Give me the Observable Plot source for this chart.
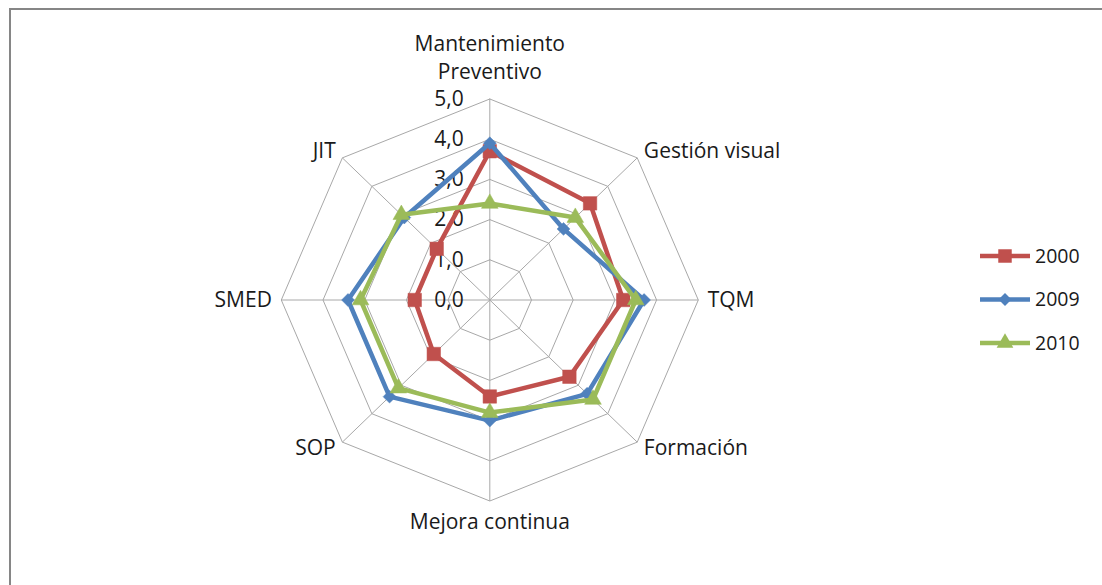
<!DOCTYPE html>
<html>
<head>
<meta charset="utf-8">
<script src="https://cdn.jsdelivr.net/npm/d3@7"></script>
<script src="https://cdn.jsdelivr.net/npm/@observablehq/plot@0.6"></script>
<style>
  html, body { margin: 0; padding: 0; background: #fff; }
  #wrap { position: relative; width: 1102px; height: 585px; overflow: hidden; font-family: "Open Sans", sans-serif; }
  #frame { position: absolute; left: 9px; top: 8px; right: -10px; bottom: -10px; border-top: 2px solid #868686; border-left: 2px solid #868686; }
  #chart { position: absolute; left: 0; top: 0; }
  #legend { position: absolute; left: 0; top: 0; }
</style>
</head>
<body>
<div id="wrap"><div id="frame"></div><div id="chart"></div><svg id="legend" width="1102" height="585"></svg></div>
<script>
// ---- data ----
const categories = ["Mantenimiento\nPreventivo", "Gestión visual", "TQM", "Formación", "Mejora continua", "SOP", "SMED", "JIT"];
const series = ["2000", "2009", "2010"];
const values2000 = [3.7, 3.4, 3.2, 2.7, 2.4, 1.9, 1.8, 1.8];
const values2009 = [3.9, 2.5, 3.7, 3.3, 3.0, 3.4, 3.4, 2.9];
const values2010 = [2.4, 2.9, 3.5, 3.5, 2.8, 3.1, 3.1, 3.0];
const ringTicks = [0, 1, 2, 3, 4, 5];
const tickLabels = ["0,0", "1,0", "2,0", "3,0", "4,0", "5,0"];
const colors = ["#C0504D", "#4F81BD", "#9BBB59"];
const symbols = ["square", "diamond2", "triangle"];

// ---- geometry helpers ----
const n = categories.length;
const maxV = 5;
const ang = i => i * 2 * Math.PI / n;
const px = (v, i) => v * Math.sin(ang(i));
const py = (v, i) => v * Math.cos(ang(i));

const rings = [];
for (const r of ringTicks.filter(d => d > 0)) {
  for (let i = 0; i <= n; i++) rings.push({r, x: px(r, i % n), y: py(r, i % n)});
}
const spokes = categories.map((c, i) => ({x1: 0, y1: 0, x2: px(maxV, i), y2: py(maxV, i)}));
const labelPts = categories.map((c, i) => ({
  label: c, i,
  x: px(i % 4 === 0 ? maxV : maxV * 1.045, i),
  y: py(i % 4 === 0 ? maxV : maxV * 1.045, i),
  side: Math.sin(ang(i)) > 1e-6 ? "R" : (Math.sin(ang(i)) < -1e-6 ? "L" : (i === 0 ? "T" : "B"))
}));
const allValues = [values2000, values2009, values2010];
const seriesRows = series.map((s, k) => {
  const rows = [];
  for (let i = 0; i <= n; i++) rows.push({series: s, x: px(allValues[k][i % n], i % n), y: py(allValues[k][i % n], i % n), last: i === n});
  return rows;
});

const seriesMarks = [];
const rSizes = [7.6, 5.8, 6.2];
series.forEach((s, k) => {
  seriesMarks.push(Plot.line(seriesRows[k], {x: "x", y: "y", stroke: colors[k], strokeWidth: 4.5, strokeLinejoin: "round"}));
  seriesMarks.push(Plot.dot(seriesRows[k].filter(d => !d.last), {x: "x", y: "y", symbol: () => symbols[k], fill: colors[k], stroke: colors[k], strokeWidth: 0.5, r: rSizes[k]}));
});

const FONT = "'Open Sans', sans-serif";
const FS = 21;
const textStyle = {fontSize: FS, fill: "#1a1a1a", fontFamily: FONT};

const chart = Plot.plot({
  width: 1102,
  height: 585,
  margin: 0,
  x: {domain: [-5, 5], range: [280.8, 697.8], axis: null},
  y: {domain: [-5, 5], range: [500.5, 98.5], axis: null},
  symbol: {domain: series, range: symbols},
  marks: [
    Plot.line(rings, {x: "x", y: "y", z: "r", stroke: "#a8a8a8", strokeWidth: 1}),
    Plot.link(spokes, {x1: "x1", y1: "y1", x2: "x2", y2: "y2", stroke: "#a8a8a8", strokeWidth: 1}),
    Plot.text(ringTicks, {x: ringTicks.map(() => 0), y: d => d, text: (d, i) => tickLabels[i], textAnchor: "end", dx: -26, ...textStyle}),
    ...seriesMarks,
    Plot.text(labelPts.filter(d => d.side === "R"), {x: "x", y: "y", text: "label", textAnchor: "start", ...textStyle}),
    Plot.text(labelPts.filter(d => d.side === "L"), {x: "x", y: "y", text: "label", textAnchor: "end", ...textStyle}),
    Plot.text(labelPts.filter(d => d.side === "T"), {x: "x", y: "y", text: "label", textAnchor: "middle", lineAnchor: "bottom", lineHeight: 1.35, dy: -20, ...textStyle}),
    Plot.text(labelPts.filter(d => d.side === "B"), {x: "x", y: "y", text: "label", textAnchor: "middle", lineAnchor: "top", dy: 13, ...textStyle})
  ]
});
document.getElementById("chart").appendChild(chart);

// ---- legend ----
const lg = d3.select("#legend");
const legendX = 980, legendY0 = 256, legendStep = 43.5;
const symMap = {square: d3.symbolSquare, diamond2: d3.symbolDiamond2, triangle: d3.symbolTriangle};
series.forEach((s, k) => {
  const y = legendY0 + k * legendStep;
  lg.append("line").attr("x1", legendX).attr("x2", legendX + 50).attr("y1", y).attr("y2", y)
    .attr("stroke", colors[k]).attr("stroke-width", 4.5);
  lg.append("path").attr("d", d3.symbol(symMap[symbols[k]], Math.PI * rSizes[k] * rSizes[k])())
    .attr("transform", `translate(${legendX + 25},${y})`).attr("fill", colors[k]);
  lg.append("text").attr("x", legendX + 55).attr("y", y).attr("dy", "0.35em")
    .attr("font-family", FONT).attr("font-size", 19.5).attr("fill", "#1a1a1a").text(s);
});
</script>
</body>
</html>
